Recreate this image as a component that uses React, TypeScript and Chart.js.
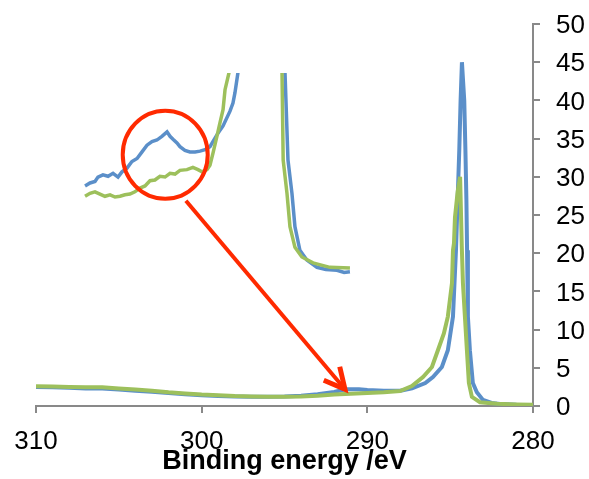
import React, { useEffect, useRef } from "react";
import { Chart, registerables } from "chart.js";

Chart.register(...registerables);

// ---- Main spectrum (binding energy in eV, intensity) ----
const blueEnergy = [
  310, 309, 308, 307, 306, 305, 304, 303, 302, 301, 300, 299, 298, 297, 296, 295, 294, 293, 292,
  291.3, 290.5, 290, 289, 288, 287.3, 286.5, 286.04, 285.5, 285.14, 284.83, 284.65, 284.55, 284.45,
  284.37, 284.29, 284.15, 284.08, 284.02, 283.98, 283.93, 283.81, 283.63, 283.39, 283.02, 282.5, 282,
  281, 280,
];
const blueIntensity = [
  2.5, 2.45, 2.4, 2.3, 2.3, 2.15, 2.0, 1.85, 1.7, 1.55, 1.4, 1.3, 1.25, 1.2, 1.2, 1.25, 1.35, 1.55, 1.85,
  2.2, 2.2, 2.1, 2.0, 2.0, 2.3, 3.0, 3.8, 5.1, 7.3, 11.7, 20.4, 27, 33.5,
  40, 45, 40, 33.5, 27, 20.4, 11.7, 7.3, 3.0, 1.8, 0.8, 0.4, 0.25,
  0.15, 0.1,
];
const greenEnergy = [
  310, 309, 308, 307, 306, 305, 304, 303, 302, 301, 300, 299, 298, 297, 296, 295, 294, 293, 292,
  291, 290, 289, 288.03, 287.31, 286.64, 286.1, 285.74, 285.38, 285.14, 284.89, 284.83, 284.77,
  284.71, 284.55, 284.4, 284.3, 284.23, 284.11, 283.99, 283.87, 283.69, 283.2, 282.18, 281, 280,
];
const greenIntensity = [
  2.6, 2.55, 2.5, 2.45, 2.45, 2.3, 2.15, 2.0, 1.8, 1.65, 1.5, 1.4, 1.3, 1.25, 1.2, 1.2, 1.25, 1.35, 1.5,
  1.6, 1.7, 1.8, 1.95, 2.6, 3.8, 5.1, 7.3, 9.5, 11.7, 16.1, 20.4, 21.3,
  24.7, 28, 30, 21, 16.1, 11.7, 7.3, 3.0, 1.2, 0.5, 0.3, 0.2, 0.15,
];

// ---- Magnified inset of the 296–280 eV region ----
const insetBlueEnergy = [
  296.04, 295.74, 295.44, 295.26, 294.96, 294.65, 294.35, 294.05, 293.81, 293.51, 293.21, 292.9,
  292.6, 292.3, 292.0, 291.7, 291.4, 291.09, 290.91, 290.73, 290.49, 290.31, 290.01, 289.71, 289.4,
  289.1, 288.8, 288.5, 288.32, 288.08, 287.71, 287.29, 287.11, 286.99, 286.81, 286.69, 284.3,
  284.02, 283.97, 283.79, 283.55, 283.37, 283.07, 282.65, 282.04, 281.5, 280.83, 280.4, 280.05,
];
const insetBlueIntensity = [
  1.19, 1.23, 1.25, 1.31, 1.34, 1.32, 1.36, 1.31, 1.38, 1.43, 1.52, 1.56,
  1.65, 1.74, 1.79, 1.81, 1.86, 1.92, 1.86, 1.82, 1.77, 1.72, 1.67, 1.65, 1.65,
  1.66, 1.68, 1.72, 1.79, 1.88, 2.0, 2.2, 2.31, 2.45, 2.72, 3.1, 5,
  3.2, 2.72, 1.54, 1.09, 0.64, 0.32, 0.19, 0.09, 0.06, 0.05, 0.02, 0.03,
];
const insetGreenEnergy = [
  296.04, 295.74, 295.44, 295.14, 294.84, 294.53, 294.23, 293.93, 293.63, 293.33, 293.03, 292.72,
  292.42, 292.12, 291.82, 291.52, 291.21, 290.91, 290.61, 290.31, 289.89, 289.53, 289.22, 288.98,
  288.68, 288.5, 288.32, 288.08, 287.9, 287.71, 287.59, 287.35, 287.23, 284.3, 284.2,
  284.15, 284.08, 283.85, 283.67, 283.37, 282.95, 282.28, 281.26, 280.05,
];
const insetGreenIntensity = [
  1.05, 1.09, 1.11, 1.08, 1.05, 1.07, 1.04, 1.05, 1.07, 1.08, 1.11, 1.16,
  1.19, 1.26, 1.27, 1.32, 1.31, 1.36, 1.35, 1.4, 1.41, 1.44, 1.41, 1.38,
  1.41, 1.47, 1.63, 1.86, 2.04, 2.22, 2.49, 2.72, 3.1, 5, 3.2,
  2.72, 1.54, 1.09, 0.64, 0.36, 0.23, 0.15, 0.09, 0.08,
];

const xTicks = [310, 300, 290, 280];
const yTicks = [0, 5, 10, 15, 20, 25, 30, 35, 40, 45, 50];

// Annotation anchors (data coordinates)
const circleCenter = { energy: 291.2, intensity: 1.61 }; // inset coordinates
const arrowStart = { energy: 289.95, intensity: 0.99 }; // inset coordinates
const arrowTip = { energy: 291.35, intensity: 2.2 }; // main coordinates

const BLUE = "#5B8FC9";
const GREEN = "#9DC05C";
const RED = "#FF2A00";
const AXIS = "#898989";
const FONT = "'Liberation Sans', Arial, Helvetica, sans-serif";

const pts = (xs: number[], ys: number[]) => xs.map((x, i) => ({ x, y: ys[i] }));

const annotationPlugin = {
  id: "zoomAnnotation",
  afterDatasetsDraw(chart: any) {
    const { ctx } = chart;
    const xi = chart.scales.xInset;
    const yi = chart.scales.yInset;
    const xm = chart.scales.x;
    const ym = chart.scales.y;
    const cx = xi.getPixelForValue(circleCenter.energy);
    const cy = yi.getPixelForValue(circleCenter.intensity);
    const sx = xi.getPixelForValue(arrowStart.energy);
    const sy = yi.getPixelForValue(arrowStart.intensity);
    const tx = xm.getPixelForValue(arrowTip.energy);
    const ty = ym.getPixelForValue(arrowTip.intensity);
    ctx.save();
    ctx.strokeStyle = RED;
    ctx.lineWidth = 4;
    ctx.beginPath();
    ctx.ellipse(cx, cy, 42.5, 44, 0, 0, Math.PI * 2);
    ctx.stroke();
    ctx.beginPath();
    ctx.moveTo(sx, sy);
    ctx.lineTo(tx, ty);
    ctx.stroke();
    const ang = Math.atan2(ty - sy, tx - sx);
    const len = 23;
    const spread = (27 * Math.PI) / 180;
    ctx.lineWidth = 5;
    ctx.lineJoin = "miter";
    ctx.beginPath();
    ctx.moveTo(tx - len * Math.cos(ang - spread), ty - len * Math.sin(ang - spread));
    ctx.lineTo(tx, ty);
    ctx.lineTo(tx - len * Math.cos(ang + spread), ty - len * Math.sin(ang + spread));
    ctx.stroke();
    ctx.restore();
  },
};

export default function App() {
  const canvasRef = useRef<HTMLCanvasElement | null>(null);

  useEffect(() => {
    if (!canvasRef.current) return;
    const insetClip = { left: false, right: false, bottom: false, top: -49 } as any;
    const chart = new Chart(canvasRef.current, {
      type: "line",
      data: {
        datasets: [
          {
            label: "blue",
            data: pts(blueEnergy, blueIntensity),
            borderColor: BLUE,
            borderWidth: 4,
            pointRadius: 0,
            tension: 0,
            xAxisID: "x",
            yAxisID: "y",
            order: 2,
          },
          {
            label: "green",
            data: pts(greenEnergy, greenIntensity),
            borderColor: GREEN,
            borderWidth: 4,
            pointRadius: 0,
            tension: 0,
            xAxisID: "x",
            yAxisID: "y",
            order: 1,
          },
          {
            label: "inset blue",
            data: pts(insetBlueEnergy, insetBlueIntensity),
            borderColor: BLUE,
            borderWidth: 3.5,
            pointRadius: 0,
            tension: 0,
            xAxisID: "xInset",
            yAxisID: "yInset",
            clip: insetClip,
            order: 4,
          },
          {
            label: "inset green",
            data: pts(insetGreenEnergy, insetGreenIntensity),
            borderColor: GREEN,
            borderWidth: 3.5,
            pointRadius: 0,
            tension: 0,
            xAxisID: "xInset",
            yAxisID: "yInset",
            clip: insetClip,
            order: 3,
          },
        ],
      },
      options: {
        animation: false,
        responsive: true,
        maintainAspectRatio: false,
        events: [],
        layout: { padding: { left: 36, top: 24, right: 0, bottom: 0 } },
        plugins: {
          legend: { display: false },
          tooltip: { enabled: false },
          title: { display: false },
        },
        scales: {
          x: {
            type: "linear",
            position: "bottom",
            min: 280,
            max: 310,
            reverse: true,
            afterBuildTicks: (s: any) => {
              s.ticks = xTicks.map((v) => ({ value: v }));
            },
            afterFit: (s: any) => {
              s.height = 73;
            },
            grid: { drawOnChartArea: false, tickLength: 7, color: AXIS, lineWidth: 2 },
            border: { color: AXIS, width: 2 },
            ticks: {
              color: "#000",
              font: { family: FONT, size: 26 },
              padding: 13,
              maxRotation: 0,
            },
            title: {
              display: true,
              text: "Binding energy /eV",
              color: "#000",
              font: { family: FONT, size: 27, weight: "bold" },
              padding: { top: 0, bottom: 1 },
            },
          },
          y: {
            type: "linear",
            position: "right",
            min: 0,
            max: 50,
            afterBuildTicks: (s: any) => {
              s.ticks = yTicks.map((v) => ({ value: v }));
            },
            afterFit: (s: any) => {
              s.width = 56;
              s.paddingTop = 0;
              s.paddingBottom = 0;
            },
            grid: { drawOnChartArea: false, tickLength: 7, color: AXIS, lineWidth: 2 },
            border: { color: AXIS, width: 2 },
            ticks: {
              color: "#000",
              font: { family: FONT, size: 26 },
              padding: 16,
              labelOffset: 2,
            },
          },
          xInset: {
            type: "linear",
            axis: "x",
            position: "bottom",
            display: false,
            min: 269,
            max: 299,
            reverse: true,
          },
          yInset: {
            type: "linear",
            axis: "y",
            position: "left",
            display: false,
            min: -1.784,
            max: 3.378,
          },
        } as any,
      },
      plugins: [annotationPlugin],
    });
    return () => chart.destroy();
  }, []);

  return (
    <div style={{ position: "absolute", left: 0, top: 0, width: 589, height: 479, background: "#fff" }}>
      <canvas ref={canvasRef} />
    </div>
  );
}
